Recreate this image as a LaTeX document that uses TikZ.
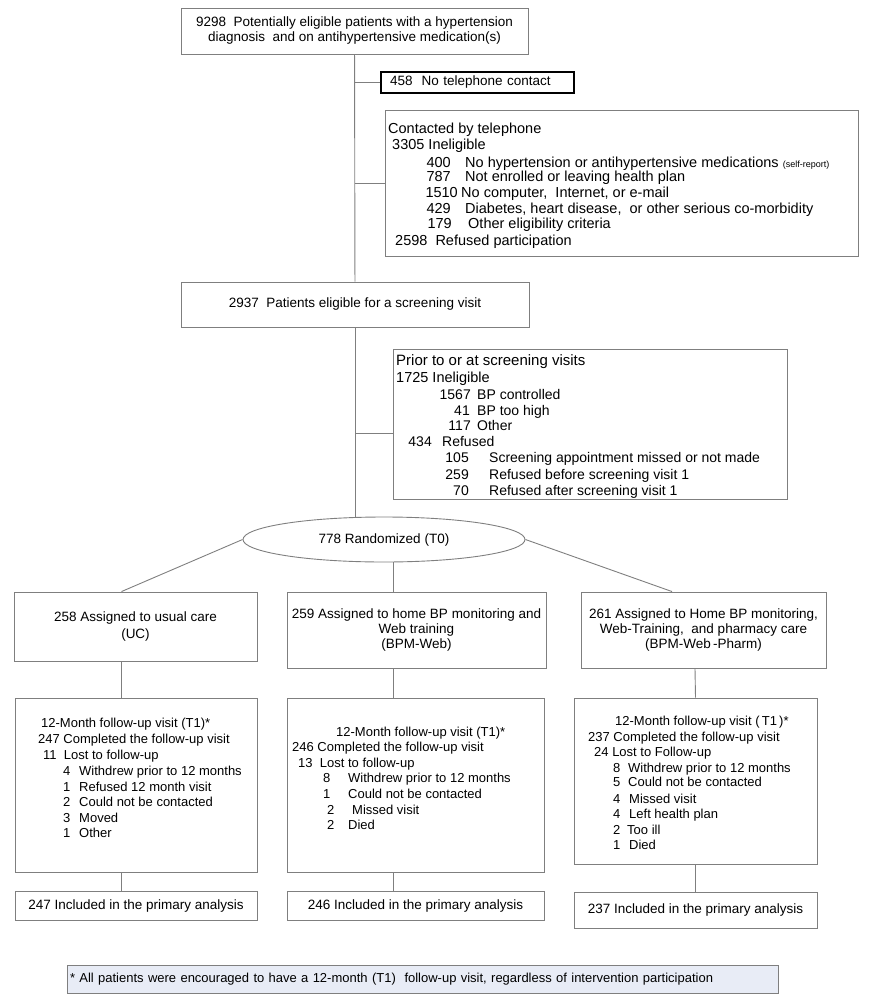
\documentclass[tikz,border=0pt]{standalone}
\usepackage{fontspec}
\setmainfont{Liberation Sans}
\usetikzlibrary{shapes.geometric}
\definecolor{linegray}{HTML}{7F7F7F}
\definecolor{notefill}{HTML}{E8ECF6}
\newcommand{\mainsize}{\fontsize{13.5}{15}\selectfont}
\newcommand{\listsize}{\fontsize{14.5}{16}\selectfont}
\newcommand{\rowsize}{\fontsize{14}{16}\selectfont}
\newcommand{\fusize}{\fontsize{13}{15.5}\selectfont}
\newcommand{\notesize}{\fontsize{13}{15}\selectfont}
\tikzset{
	box/.style={draw=linegray, line width=0.9pt, inner sep=0pt},
	link/.style={draw=linegray, line width=0.9pt},
	txt/.style={anchor=base west, inner sep=0pt},
	num/.style={anchor=base east, inner sep=0pt},
}
\begin{document}
\begin{tikzpicture}[x=1pt, y=-1pt, font=\mainsize]
	\useasboundingbox (0,0) rectangle (868,996);
	%flow boxes
	\node[box, minimum width=347pt, minimum height=46pt, align=center] (elig) at (354.5,31)
	{9298~ Potentially eligible patients with a hypertension\\ diagnosis~ and on antihypertensive medication(s)};
	\node[box, draw=black, line width=1.3pt, minimum height=21pt, text width=175pt, inner xsep=9pt, align=left] (nophone) at (477.5,82.5)
	{458~ No telephone contact};
	\node[box, minimum width=473pt, minimum height=146pt] (contact) at (621.5,183) {};
	\node[box, minimum width=348pt, minimum height=45pt] (screen) at (355,304.5)
	{2937~ Patients eligible for a screening visit};
	\node[box, minimum width=394pt, minimum height=150pt] (prior) at (590,424) {};
	\node[box, ellipse, minimum width=282pt, minimum height=45pt] (rand) at (384,539.5)
	{778 Randomized (T0)};
	%arms
	\node[box, minimum width=243pt, minimum height=69pt, align=center, font=\fontsize{13.5}{17}\selectfont] (uc) at (135.5,626.5)
	{258 Assigned to usual care\\ (UC)};
	\node[box, minimum width=259pt, minimum height=76pt, align=center] (web) at (416.5,630)
	{259 Assigned to home BP monitoring and\\ Web training\\ (BPM-Web)};
	\node[box, minimum width=245pt, minimum height=76pt, align=center] (pharm) at (703.5,630)
	{261 Assigned to Home BP monitoring,\\ Web-Training,~ and pharmacy care\\ (BPM-Web\,-Pharm)};
	\node[box, minimum width=242pt, minimum height=174pt] (fu1) at (136,785) {};
	\node[box, minimum width=257pt, minimum height=174pt] (fu2) at (415.5,785) {};
	\node[box, minimum width=243pt, minimum height=166pt] (fu3) at (695.5,781) {};
	\node[box, minimum width=242pt, minimum height=29pt] (inc1) at (136,905.5)
	{247 Included in the primary analysis};
	\node[box, minimum width=257pt, minimum height=29pt] (inc2) at (415.5,905.5)
	{246 Included in the primary analysis};
	\node[box, minimum width=243pt, minimum height=36pt] (inc3) at (695.5,910)
	{237 Included in the primary analysis};
	\node[box, fill=notefill, minimum height=28pt, text width=705pt, inner xsep=3pt, align=left, font=\notesize] (note) at (422.5,979)
	{* All patients were encouraged to have a 12-month (T1)~ follow-up visit, regardless of intervention participation};
	%connectors
	\draw[link] (elig) -- (screen);
	\draw[link] (nophone.west) -- (nophone.west -| elig.south);
	\draw[link] (contact.west) -- (contact.west -| elig.south);
	\draw[link] (screen.south) -- (screen.south |- rand.north);
	\draw[link] ([yshift=-9pt]prior.west) -- ([yshift=-9pt]prior.west -| screen.south);
	\draw[link] (rand.west) -- ([xshift=-14pt]uc.north);
	\draw[link] ([xshift=9pt]rand.south) -- ([xshift=9pt]rand.south |- web.north);
	\draw[link] (rand.east) -- ([xshift=-31.5pt]pharm.north);
	\draw[link] ([xshift=-14.5pt]uc.south) -- ([xshift=-15pt]fu1.north);
	\draw[link] ([xshift=-15pt]fu1.south) -- ([xshift=-15pt]inc1.north);
	\draw[link] ([xshift=-23.5pt]web.south) -- ([xshift=-22.5pt]fu2.north);
	\draw[link] ([xshift=-22.5pt]fu2.south) -- ([xshift=-22.5pt]inc2.north);
	\draw[link] ([xshift=-8.5pt]pharm.south) -- (fu3.north);
	\draw[link] (fu3.south) -- (inc3.north);
	%contacted by telephone
	\begin{scope}[font=\listsize]
		\node[txt] (ct0) at (388,133) {Contacted by telephone};
		\node[txt] (ct1) at (392,149) {3305 Ineligible};
		\foreach \y/\xn/\n/\xt/\t [count=\i] in {
			167/451/400/465/{No hypertension or antihypertensive medications \fontsize{9}{10}\selectfont(self-report)},
			181/451/787/465/{Not enrolled or leaving health plan},
			197/458/1510/461/{No computer,~ Internet, or e-mail},
			213/451/429/465/{Diabetes, heart disease,~ or other serious co-morbidity},
			228/452/179/468/{Other eligibility criteria}}
		{
			\node[num] (cn\i) at (\xn,\y) {\n};
			\node[txt] (ci\i) at (\xt,\y) {\t};
		}
		\node[txt] (ct2) at (395,245) {2598~ Refused participation};
	\end{scope}
	%screening visits
	\node[txt, font=\fontsize{15}{16}\selectfont] (pv0) at (396,365.5) {Prior to or at screening visits};
	\node[txt, font=\fontsize{14.5}{16}\selectfont] (pv1) at (396,382.5) {1725 Ineligible};
	\begin{scope}[font=\rowsize]
		\foreach \y/\xn/\n/\xt/\t [count=\i] in {
			399.5/471/1567/477/BP controlled,
			415.5/470/41/477/BP too high,
			430.5/471/117/477/Other,
			446.5/432/434/442/Refused,
			462.5/469/105/489/Screening appointment missed or not made,
			479.5/469/259/489/Refused before screening visit 1,
			495.5/469/70/489/Refused after screening visit 1}
		{
			\node[num] (pn\i) at (\xn,\y) {\n};
			\node[txt] (pi\i) at (\xt,\y) {\t};
		}
	\end{scope}
	%follow-up visits
	\begin{scope}[font=\fusize]
		\node[txt] (a0) at (41,727) {12-Month follow-up visit (T1)*};
		\node[txt] (a1) at (38,743) {247 Completed the follow-up visit};
		\node[txt] (a2) at (43,759) {11~ Lost to follow-up};
		\foreach \y/\n/\t [count=\i] in {
			775/4/Withdrew prior to 12 months,
			791/1/Refused 12 month visit,
			806/2/Could not be contacted,
			822/3/Moved,
			837/1/Other}
		{
			\node[txt] (an\i) at (63,\y) {\n};
			\node[txt] (ai\i) at (79,\y) {\t};
		}
		\node[txt] (b0) at (336,736) {12-Month follow-up visit (T1)*};
		\node[txt] (b1) at (292,751) {246 Completed the follow-up visit};
		\node[txt] (b2) at (298,767) {13~ Lost to follow-up};
		\foreach \y/\xn/\xt/\n/\t [count=\i] in {
			782/323/348/8/Withdrew prior to 12 months,
			798/323/348/1/Could not be contacted,
			814/327/352/2/Missed visit,
			829/327/348/2/Died}
		{
			\node[txt] (bn\i) at (\xn,\y) {\n};
			\node[txt] (bi\i) at (\xt,\y) {\t};
		}
		\node[txt] (c0) at (615,725) {12-Month follow-up visit (\,T1\,)*};
		\node[txt] (c1) at (588,741) {237 Completed the follow-up visit};
		\node[txt] (c2) at (594,756) {24 Lost to Follow-up};
		\foreach \y/\xt/\n/\t [count=\i] in {
			772/628/8/Withdrew prior to 12 months,
			786/628/5/Could not be contacted,
			803/629/4/Missed visit,
			818/629/4/Left health plan,
			834/627/2/Too ill,
			849/629/1/Died}
		{
			\node[txt] (fn\i) at (613,\y) {\n};
			\node[txt] (fi\i) at (\xt,\y) {\t};
		}
	\end{scope}
\end{tikzpicture}
\end{document}
